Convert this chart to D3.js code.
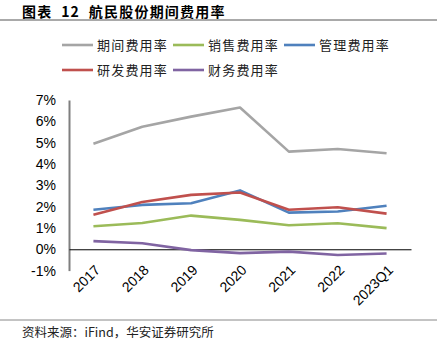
<!DOCTYPE html>
<html><head><meta charset="utf-8">
<script src="https://cdn.jsdelivr.net/npm/d3@7"></script>
<style>body{margin:0;background:#fff;} svg{display:block;}</style>
</head><body><svg id="c" width="440" height="357"></svg>
<script>
const categories = ["2017","2018","2019","2020","2021","2022","2023Q1"];
const seriesNames = ["期间费用率","销售费用率","管理费用率","研发费用率","财务费用率"];
const periodRate = [4.95, 5.75, 6.22, 6.65, 4.58, 4.7, 4.5];
const salesRate = [1.08, 1.23, 1.58, 1.38, 1.13, 1.22, 0.99];
const adminRate = [1.85, 2.08, 2.16, 2.76, 1.72, 1.77, 2.04];
const rdRate = [1.62, 2.22, 2.55, 2.66, 1.85, 1.97, 1.67];
const finRate = [0.38, 0.28, -0.04, -0.18, -0.11, -0.27, -0.2];
const yTicks = [-1,0,1,2,3,4,5,6,7];
const colors = ["#A5A5A5","#9BBB59","#4F81BD","#C0504D","#8064A2"];
const allSeries = [periodRate, salesRate, adminRate, rdRate, finRate];

const svg = d3.select("#c");
const cjk = "'Noto Sans CJK SC', sans-serif";
const lat = "'Liberation Sans', Arial, sans-serif";

svg.append("text").attr("x",22).attr("y",16.5).attr("font-family",cjk).attr("font-weight","bold")
  .attr("font-size",14).attr("letter-spacing",1.2).attr("fill","#000").attr("xml:space","preserve")
  .text("图表  12  航民股份期间费用率");
svg.append("line").attr("x1",0).attr("x2",437).attr("y1",20).attr("y2",20).attr("stroke","#555").attr("stroke-width",1);

const x = d3.scaleBand().domain(categories).range([69,411]);
const y = d3.scaleLinear().domain([-1,7]).range([270.6,100]);

// y axis
const yAxis = d3.axisLeft(y).tickValues(yTicks).tickSize(0).tickFormat(d=>d+"%");
const gy = svg.append("g").attr("transform","translate(69,0)").call(yAxis);
gy.select(".domain").attr("stroke","#7f7f7f").attr("stroke-width",2);
gy.selectAll("text").attr("font-family",lat).attr("font-size",14).attr("fill","#000").attr("x",-13);

// zero line / x axis
const xAxis = d3.axisBottom(x).tickSize(0);
const gx = svg.append("g").attr("transform",`translate(0,${y(0)})`).call(xAxis);
gx.select(".domain").attr("stroke","#000").attr("stroke-width",1);
gx.selectAll("text").attr("font-family",lat).attr("font-size",14).attr("fill","#000")
  .attr("text-anchor","end").attr("dy","0.35em").attr("y",0)
  .attr("transform",function(d){ return `translate(4,${y(-1)-y(0)-3}) rotate(-45)`; });

const line = d3.line().x((d,i)=>x(categories[i])+x.bandwidth()/2).y(d=>y(d));
allSeries.forEach((s,i)=>{
  svg.append("path").datum(s).attr("d",line).attr("fill","none")
    .attr("stroke",colors[i]).attr("stroke-width",2.6).attr("stroke-linejoin","round");
});

// legend
const legPos = [[62,45],[173,45],[284,45],[62,70],[173,70]];
legPos.forEach(([lx,ly],k)=>{
  svg.append("line").attr("x1",lx).attr("x2",lx+31).attr("y1",ly).attr("y2",ly)
    .attr("stroke",colors[k]).attr("stroke-width",2.6);
  svg.append("text").attr("x",lx+35).attr("y",ly).attr("dy","0.36em")
    .attr("font-family",cjk).attr("font-size",13).attr("letter-spacing",1.2).attr("fill","#222").text(seriesNames[k]);
});

svg.append("line").attr("x1",0).attr("x2",437).attr("y1",320).attr("y2",320).attr("stroke","#888").attr("stroke-width",1);
svg.append("text").attr("x",22).attr("y",337).attr("font-family",cjk).attr("font-size",12.5).attr("fill","#222")
  .text("资料来源：iFind，华安证券研究所");
</script></body></html>
